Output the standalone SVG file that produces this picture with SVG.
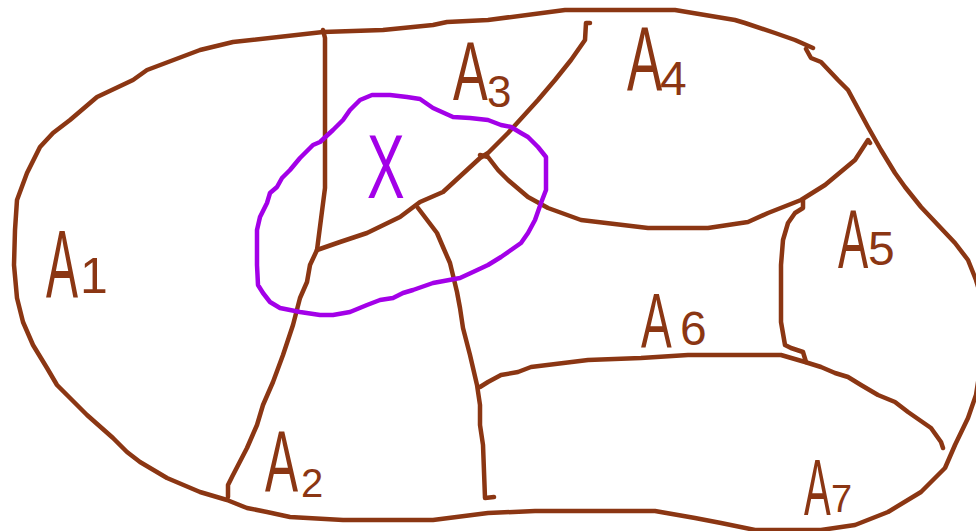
<svg xmlns="http://www.w3.org/2000/svg" width="976" height="531" viewBox="0 0 976 531">
<style>
.b{fill:none;stroke:#8B3613;stroke-width:4.5;stroke-linecap:round;stroke-linejoin:round}
.p{fill:none;stroke:#A300E8;stroke-width:4.5;stroke-linecap:round;stroke-linejoin:round}
.t{font-family:"Liberation Sans",Arial,sans-serif;fill:#8B3613}
.x{font-family:"Liberation Sans",Arial,sans-serif;fill:#A300E8}
</style>
<rect width="976" height="531" fill="#fff"/>
<g id="connectors">
<polyline class="b" points="813,48 795,40 775,33 745,23 735,20 675,10 565,10 488,20 447,22 433,25 383,30 323,32 233,42 200,50 147,70 133,80 97,97 70,120 53,133 40,147 27,173 17,200 15,230 14,265 17,298 23,322 33,345 47,368 57,385 67,395 87,415 113,438 127,452 140,462 167,478 200,492 227,500 247,508 267,512 290,517 343,520 433,520 488,513 535,511 655,511 695,518 721,523 755,530 821,530 855,525 888,512 921,492 945,468 955,445 968,418 976,395 984,345 982,300 976,280 968,260 955,243 921,207 905,187 895,173 881,150 868,127 848,90 838,80 821,62 811,58 806,49"/>
<polyline class="b" points="323,30 325,38 325,188 317,250 310,265 307,282 300,298 293,325 283,355 273,382 263,405 257,425 247,448 233,475 228,485 228,497"/>
<polyline class="b" points="317,250 340,242 367,233 400,217 420,202 443,192 480,158 488,153 508,133 538,100 555,80 571,60 585,40 586,23 590,23"/>
<polyline class="b" points="480,155 488,157 498,170 508,180 528,197 548,208 581,220 648,228 708,228 748,222 768,213 801,200 825,185 855,160 868,140 870,143"/>
<polyline class="b" points="418,208 437,233 443,247 450,263 457,292 460,308 463,328 470,355 477,385 480,405 480,425 483,445 485,498 494,497"/>
<polyline class="b" points="480,387 488,382 501,375 518,372 531,367 588,360 641,358 688,355 781,355 805,362 821,367 835,373 848,377 861,385 878,395 895,402 908,412 931,428 941,442 943,448"/>
<polyline class="b" points="803,200 803,208 795,213 788,223 783,240 781,265 781,322 785,345 791,348 803,352 806,362"/>
</g>
<g id="X-set">
<polyline class="p" points="257,265 257,230 260,217 267,203 270,193 277,187 282,178 290,170 300,158 313,145 320,142 333,130 343,120 350,110 360,100 372,95 390,95 407,97 420,99 433,108 453,117 470,118 488,120 501,125 511,127 521,133 528,137 538,147 546,157 546,190 541,203 535,220 528,233 521,243 511,250 501,257 488,265 473,272 460,278 433,283 413,290 403,293 393,298 380,300 367,305 350,312 333,315 320,315 300,312 280,308 270,302 263,293 258,285 257,265"/>
<text class="x" font-size="91" transform="translate(367,198) scale(0.62,1)">X</text>
</g>
<g id="A1"><text class="t" font-size="96" transform="translate(46,297) scale(0.5,1)">A</text><text class="t" x="80" y="293" font-size="50">1</text></g>
<g id="A2"><text class="t" font-size="87" transform="translate(265,492) scale(0.57,1)">A</text><text class="t" x="301" y="497" font-size="40">2</text></g>
<g id="A3"><text class="t" font-size="84" transform="translate(453,100) scale(0.62,1)">A</text><text class="t" x="487" y="107" font-size="44">3</text></g>
<g id="A4"><text class="t" font-size="91" transform="translate(627,90) scale(0.58,1)">A</text><text class="t" x="660" y="95" font-size="48">4</text></g>
<g id="A5"><text class="t" font-size="84" transform="translate(838,268) scale(0.54,1)">A</text><text class="t" x="868" y="265" font-size="48">5</text></g>
<g id="A6"><text class="t" font-size="78" transform="translate(641,348) scale(0.59,1)">A</text><text class="t" x="680" y="345" font-size="48">6</text></g>
<g id="A7"><text class="t" font-size="80" transform="translate(804,515) scale(0.5,1)">A</text><text class="t" x="831" y="512" font-size="38">7</text></g>
</svg>
